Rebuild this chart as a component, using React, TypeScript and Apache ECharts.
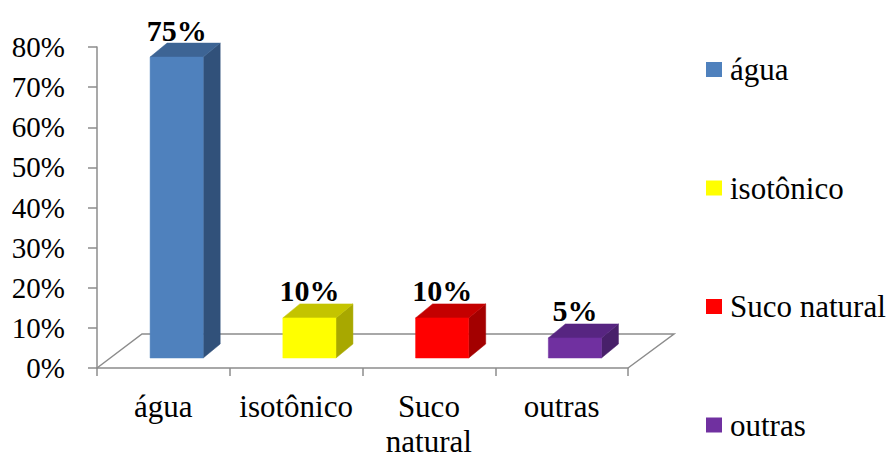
import React, { useEffect, useRef } from "react";
import * as echarts from "echarts";

const categories = ["água", "isotônico", "Suco\nnatural", "outras"];
const seriesNames = ["água", "isotônico", "Suco natural", "outras"];
const values = [75, 10, 10, 5];
const frontColors = ["#4F81BD", "#FFFF00", "#FF0000", "#7030A0"];
const topColors = ["#3D6494", "#C4C400", "#C40000", "#572581"];
const sideColors = ["#31517A", "#A8A800", "#A30000", "#48206A"];

const FONT = "Liberation Serif";
const DEPTH_X = 17;
const DEPTH_Y = 14;
const FLOOR_X = 45;
const FLOOR_Y = 34;
const BAR_LIFT = 10;

export default function App() {
  const ref = useRef<HTMLDivElement>(null);
  useEffect(() => {
    if (!ref.current) return;
    const chart = echarts.init(ref.current, null, { renderer: "svg" });

    const floorSeries: any = {
      type: "custom",
      name: "floor",
      silent: true,
      data: [[0, 0]],
      z: 1,
      renderItem: (params: any, api: any) => {
        const cs = params.coordSys;
        const x0 = cs.x, x1 = cs.x + cs.width, yb = cs.y + cs.height;
        return {
          type: "polyline",
          shape: {
            points: [
              [x0, yb],
              [x0 + FLOOR_X, yb - FLOOR_Y],
              [x1 + FLOOR_X + 1, yb - FLOOR_Y],
              [x1, yb],
            ],
          },
          style: { stroke: "#8C8C8C", lineWidth: 1.5, fill: null },
        };
      },
    };

    const barSeries = seriesNames.map((name, k) => ({
      type: "custom",
      name,
      z: 3,
      itemStyle: { color: frontColors[k] },
      encode: { x: 0, y: 1 },
      data: [[k, values[k]]],
      renderItem: (params: any, api: any) => {
        const idx = api.value(0);
        const v = api.value(1);
        const base = api.coord([idx, 0]);
        const top = api.coord([idx, v]);
        const band = api.size([1, 0])[0];
        const bw = band * 0.4;
        const cx = base[0] + band * 0.1;
        const fx0 = cx - bw / 2;
        const fx1 = cx + bw / 2;
        const fy0 = base[1] - BAR_LIFT;
        const fy1 = top[1] - BAR_LIFT;
        return {
          type: "group",
          children: [
            {
              type: "polygon",
              shape: {
                points: [
                  [fx1, fy1],
                  [fx1 + DEPTH_X, fy1 - DEPTH_Y],
                  [fx1 + DEPTH_X, fy0 - DEPTH_Y],
                  [fx1, fy0],
                ],
              },
              style: { fill: sideColors[k], stroke: sideColors[k], lineWidth: 0.5 },
            },
            {
              type: "polygon",
              shape: {
                points: [
                  [fx0, fy1],
                  [fx0 + DEPTH_X, fy1 - DEPTH_Y],
                  [fx1 + DEPTH_X, fy1 - DEPTH_Y],
                  [fx1, fy1],
                ],
              },
              style: { fill: topColors[k], stroke: topColors[k], lineWidth: 0.5 },
            },
            {
              type: "rect",
              shape: { x: fx0, y: fy1, width: bw, height: fy0 - fy1 },
              style: { fill: frontColors[k], stroke: frontColors[k], lineWidth: 0.5 },
            },
            {
              type: "text",
              x: cx,
              y: fy1 - DEPTH_Y + 2,
              style: {
                text: values[k] + "%",
                fill: "#000",
                fontFamily: FONT,
                fontWeight: "bold",
                fontSize: 30,
                textAlign: "center",
                textVerticalAlign: "bottom",
              },
            },
          ],
        };
      },
    }));

    chart.setOption({
      animation: false,
      textStyle: { fontFamily: FONT },
      grid: { left: 97, top: 47, width: 531, height: 326, containLabel: false },
      legend: {
        orient: "vertical",
        left: 701,
        top: 49,
        data: seriesNames,
        icon: "rect",
        itemWidth: 16,
        itemHeight: 15,
        itemGap: 87.5,
        selectedMode: false,
        textStyle: {
          fontSize: 31,
          lineHeight: 30,
          color: "#000",
          fontFamily: FONT,
          padding: [0, 0, 0, 3],
        },
      },
      xAxis: {
        type: "category",
        data: categories,
        axisLine: { lineStyle: { color: "#8C8C8C", width: 1.5 } },
        axisTick: { show: true, alignWithLabel: false, length: 8, lineStyle: { color: "#8C8C8C", width: 1.5 } },
        axisLabel: {
          interval: 0,
          fontSize: 31,
          lineHeight: 35,
          color: "#000",
          fontFamily: FONT,
          margin: 21,
        },
        splitLine: { show: false },
      },
      yAxis: {
        type: "value",
        min: 0,
        max: 80,
        interval: 10,
        axisLine: { show: true, lineStyle: { color: "#8C8C8C", width: 1.5 } },
        axisTick: { show: true, length: 9, lineStyle: { color: "#8C8C8C", width: 1.5 } },
        axisLabel: {
          formatter: "{value}%",
          fontSize: 29,
          color: "#000",
          fontFamily: FONT,
          margin: 32,
        },
        splitLine: { show: false },
      },
      series: [floorSeries, ...barSeries],
    });
    return () => chart.dispose();
  }, []);
  return (
    <div
      ref={ref}
      style={{ position: "fixed", left: 0, top: 0, width: 887, height: 459, background: "#fff" }}
    />
  );
}
